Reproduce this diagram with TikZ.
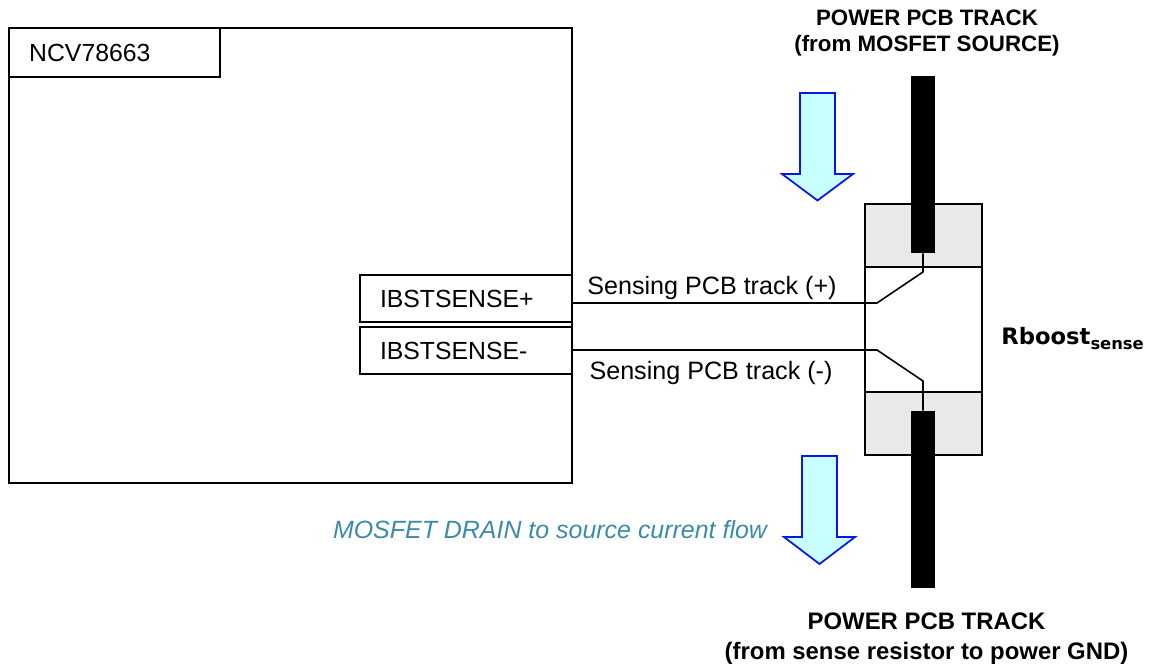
\documentclass[tikz,border=0pt]{standalone}
\usepackage{fontspec}
\setmainfont{Liberation Sans}
\newfontfamily\rboostfont{DejaVu Sans}
\definecolor{flowfill}{HTML}{C8FFFF}
\definecolor{flowblue}{HTML}{0A14F0}
\definecolor{flowtext}{HTML}{3A8CA8}
\definecolor{padgray}{HTML}{E9E9E9}
\tikzset{
    chipbox/.style={draw,line width=1.1pt,inner sep=0pt},
    pinbox/.style={chipbox,fill=white,minimum height=0.94cm,text width=3.44cm,inner xsep=0.4cm,align=left,font=\fontsize{14.1}{17}\selectfont},
    padbox/.style={chipbox,fill=padgray,minimum width=2.34cm,minimum height=1.26cm},
    track/.style={fill=black,minimum width=0.48cm,inner sep=0pt},
    sensewire/.style={line width=0.9pt},
    flowarrow/.style={draw=flowblue,fill=flowfill,line width=1pt,line join=miter},
    wirelabel/.style={font=\fontsize{14.3}{17}\selectfont}
}
\begin{document}
\begin{tikzpicture}[x=0.02cm,y=-0.02cm]
    \useasboundingbox (0,0) rectangle (1152,668);

    % controller
    \node[chipbox,minimum width=11.26cm,minimum height=9.1cm] (chip) at (290.7,255.5) {};
    \node[pinbox,text width=3.42cm,minimum height=0.98cm] (chipname) at (114.7,52.5) {NCV78663};
    \node[pinbox] (senseplus) at (466,298.5) {IBSTSENSE+};
    \node[pinbox] (senseminus) at (466,350.5) {IBSTSENSE-};

    % sense resistor
    \node[chipbox,minimum width=2.34cm,minimum height=5cm] (rbody) at (923.5,329) {};
    \node[padbox] (padtop) at (923.5,235.5) {};
    \node[padbox] (padbot) at (923.5,423.5) {};
    \node[track,minimum height=3.54cm] (tracktop) at (923,164.5) {};
    \node[track,minimum height=3.54cm] (trackbot) at (923,499.5) {};
    \node[anchor=base west,inner sep=0pt,font=\rboostfont\fontsize{12.9}{15}\bfseries\selectfont] (rlabel) at (1001,345) {Rboost\raisebox{-0.1cm}{\fontsize{9.3}{10}\selectfont sense}};

    % sensing tracks
    \coordinate (kneeplus) at (877,303);
    \coordinate (kneeminus) at (877,350);
    \draw[sensewire] (chip.east |- kneeplus) -- (kneeplus) -- (923,272) -- (tracktop.south);
    \draw[sensewire] (chip.east |- kneeminus) -- (kneeminus) -- (923,381) -- (trackbot.north);
    \node[wirelabel] (labelplus) at (712,288) {Sensing PCB track (+)};
    \node[wirelabel] (labelminus) at (711,373) {Sensing PCB track (-)};

    % current flow
    \draw[flowarrow] (800,93) -- (835,93) -- (835,174) -- (853,174) -- (817.5,200.5) -- (782,174) -- (800,174) -- cycle;
    \draw[flowarrow] (802,456) -- (837,456) -- (837,537) -- (855,537) -- (819.5,564) -- (784,537) -- (802,537) -- cycle;
    \node[text=flowtext,font=\fontsize{14.2}{17}\itshape\selectfont] (flowlabel) at (550,530) {MOSFET DRAIN to source current flow};

    \node[align=center,font=\fontsize{12.7}{15.3}\bfseries\selectfont] (titletop) at (927,33) {POWER PCB TRACK\\(from MOSFET SOURCE)};
    \node[align=center,font=\fontsize{13.6}{17}\bfseries\selectfont] (titlebot) at (926.5,639) {POWER PCB TRACK\\(from sense resistor to power GND)};
\end{tikzpicture}
\end{document}
